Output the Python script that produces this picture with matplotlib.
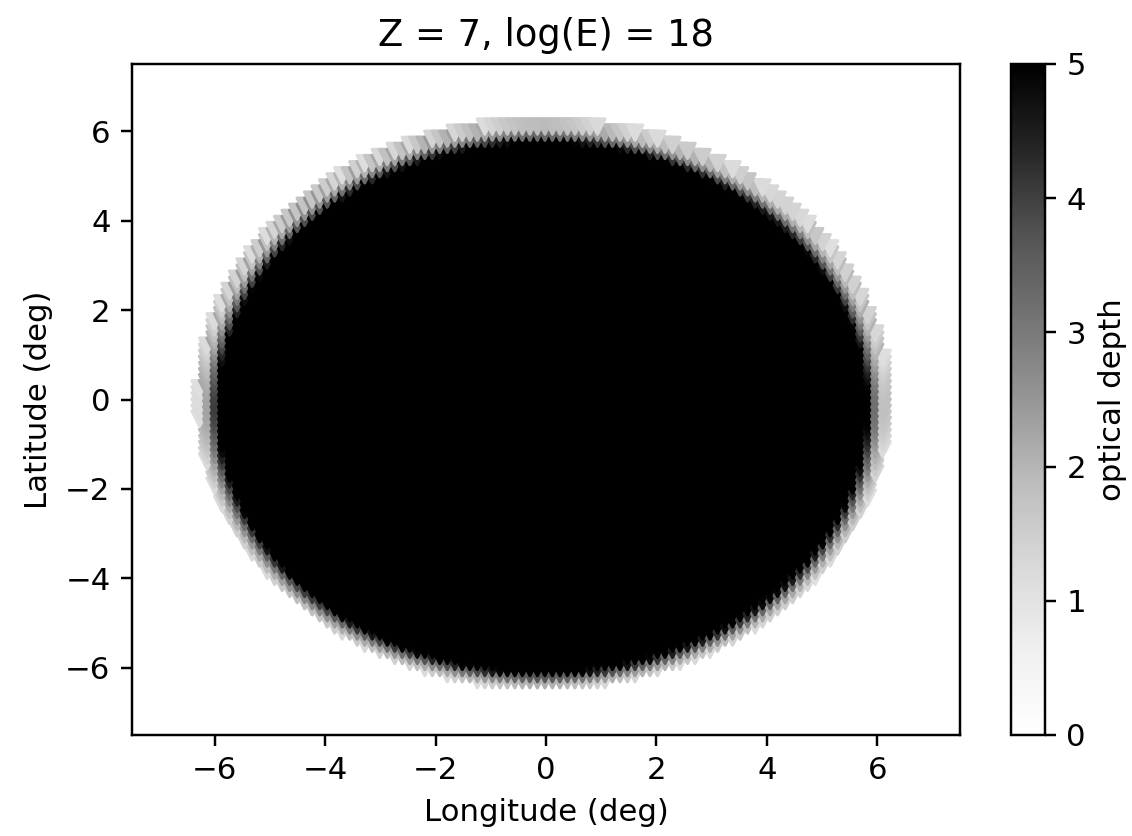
import numpy as np
import matplotlib
matplotlib.use("Agg")
import matplotlib.pyplot as plt

# Radial profile of optical depth around the source centre (deg -> tau)
centre_lon = -0.05
centre_lat = -0.1
lon_scale = 0.99
profile_radius = [0.0, 5.95, 6.05, 6.15, 6.25, 6.3]
profile_tau = [8.0, 5.0, 3.5, 2.3, 1.5, 1.1]
max_radius = 6.3

grid_step = 0.136
lon_range = (-7.5, 7.5)
lat_range = (-7.5, 7.5)

title = "Z = 7, log(E) = 18"
xlabel = "Longitude (deg)"
ylabel = "Latitude (deg)"
cbar_label = "optical depth"
ticks = [-6, -4, -2, 0, 2, 4, 6]
cbar_ticks = [0, 1, 2, 3, 4, 5]

lon = np.arange(lon_range[0], lon_range[1] + 1e-9, grid_step)
lat = np.arange(lat_range[0], lat_range[1] + 1e-9, grid_step)
LON, LAT = np.meshgrid(lon, lat)
R = np.hypot((LON - centre_lon) / lon_scale, LAT - centre_lat)
TAU = np.interp(R, profile_radius, profile_tau)
keep = R <= max_radius
x, y, tau = LON[keep], LAT[keep], TAU[keep]

W, H, DPI = 1132, 836, 221
fig = plt.figure(figsize=(W / DPI, H / DPI), dpi=DPI)
ax = fig.add_axes([132 / W, 1 - 735 / H, (960 - 132) / W, (735 - 64) / H])
cax = fig.add_axes([1011 / W, 1 - 735 / H, (1045 - 1011) / W, (735 - 64) / H])

sc = ax.scatter(x, y, c=tau, cmap="Greys", vmin=0, vmax=5, marker="v", s=25)
ax.set_xlim(*lon_range)
ax.set_ylim(*lat_range)
ax.set_xticks(ticks)
ax.set_yticks(ticks)
ax.set_xlabel(xlabel)
ax.set_ylabel(ylabel)
ax.set_title(title)

cb = fig.colorbar(sc, cax=cax)
cb.set_ticks(cbar_ticks)
cb.set_label(cbar_label)

fig.savefig("out.png", dpi=DPI)
